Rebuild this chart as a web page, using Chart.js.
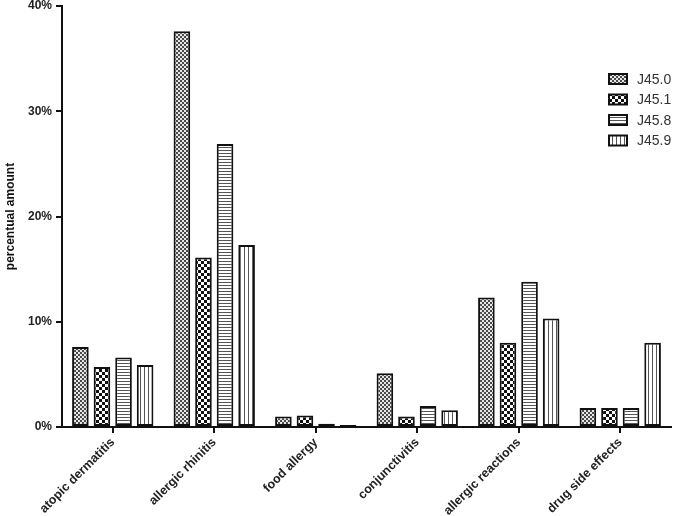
<!DOCTYPE html>
<html>
<head>
<meta charset="utf-8">
<script src="https://cdn.jsdelivr.net/npm/chart.js@4"></script>
<style>
  body { margin: 0; background: #fff; }
  #wrap { width: 675px; height: 516px; position: relative; }
</style>
</head>
<body>
<div id="wrap"><canvas id="chart"></canvas></div>
<script>
// data (percent)
const categories = ["atopic dermatitis", "allergic rhinitis", "food allergy", "conjunctivitis", "allergic reactions", "drug side effects"];
const seriesNames = ["J45.0", "J45.1", "J45.8", "J45.9"];
const j450 = [7.6, 37.6, 1.0, 5.1, 12.3, 1.8];
const j451 = [5.7, 16.1, 1.1, 1.0, 8.0, 1.8];
const j458 = [6.6, 26.9, 0.3, 2.0, 13.8, 1.8];
const j459 = [5.9, 17.3, 0.2, 1.6, 10.3, 8.0];
const yTicks = [0, 10, 20, 30, 40];

// fill patterns
const makePattern = (size, draw) => {
  const c = document.createElement("canvas");
  c.width = size;
  c.height = size;
  const g = c.getContext("2d");
  g.fillStyle = "#fff";
  g.fillRect(0, 0, size, size);
  draw(g);
  return g.createPattern(c, "repeat");
};

const patterns = [
  // fine grey checker
  makePattern(4, (g) => {
    g.fillStyle = "#e6e6e6";
    g.fillRect(0, 0, 4, 4);
    g.fillStyle = "#4a4a4a";
    g.fillRect(0, 0, 2, 2);
    g.fillRect(2, 2, 2, 2);
  }),
  // coarse black/white checker
  makePattern(6, (g) => {
    g.fillStyle = "#111";
    g.fillRect(0, 0, 3, 3);
    g.fillRect(3, 3, 3, 3);
  }),
  // horizontal lines
  makePattern(3, (g) => {
    g.fillStyle = "#555";
    g.fillRect(0, 0, 3, 1);
  }),
  // vertical lines
  makePattern(4, (g) => {
    g.fillStyle = "#555";
    g.fillRect(0, 0, 1, 4);
  }),
];

const values = [j450, j451, j458, j459];

// legend drawn inside plot area, top right
const legendPlugin = {
  id: "boxLegend",
  afterDraw(chart) {
    const ctx = chart.ctx;
    ctx.save();
    chart.data.datasets.forEach((ds, i) => {
      const y = 79 + i * 20.5;
      ctx.fillStyle = ds.backgroundColor;
      ctx.fillRect(609, y - 5, 18, 10);
      ctx.lineWidth = 2;
      ctx.strokeStyle = "#111";
      ctx.strokeRect(609, y - 5, 18, 10);
      ctx.fillStyle = "#333";
      ctx.font = "14px 'Liberation Sans', Arial, sans-serif";
      ctx.textBaseline = "middle";
      ctx.fillText(ds.label, 637, y + 1);
    });
    ctx.restore();
  },
};

new Chart(document.getElementById("chart"), {
  type: "bar",
  data: {
    labels: categories,
    datasets: seriesNames.map((name, i) => ({
      label: name,
      data: values[i],
      backgroundColor: patterns[i],
      borderColor: "#111",
      borderWidth: 2,
      borderSkipped: false,
      categoryPercentage: 0.85,
      barPercentage: 0.77,
    })),
  },
  options: {
    responsive: true,
    maintainAspectRatio: false,
    animation: false,
    layout: { padding: { top: 6, right: 4, left: 0, bottom: 0 } },
    plugins: {
      legend: { display: false },
      tooltip: { enabled: false },
    },
    scales: {
      x: {
        grid: {
          display: true,
          offset: false,
          drawOnChartArea: false,
          drawTicks: true,
          tickLength: 6,
          color: "#111",
          lineWidth: 2,
        },
        border: { display: true, color: "#111", width: 2 },
        ticks: {
          color: "#222",
          minRotation: 45,
          maxRotation: 45,
          padding: 2,
          font: { family: "'Liberation Sans', Arial, sans-serif", size: 12.5, weight: "bold" },
        },
        afterFit: (scale) => { scale.height = 89; },
      },
      y: {
        min: 0,
        max: 40,
        afterBuildTicks: (scale) => { scale.ticks = yTicks.map((v) => ({ value: v })); },
        grid: {
          display: true,
          drawOnChartArea: false,
          drawTicks: true,
          tickLength: 6,
          color: "#111",
          lineWidth: 2,
        },
        border: { display: true, color: "#111", width: 2 },
        ticks: {
          color: "#222",
          padding: 4,
          callback: (v) => v + "%",
          font: { family: "'Liberation Sans', Arial, sans-serif", size: 12, weight: "bold" },
        },
        title: {
          display: true,
          text: "percentual amount",
          color: "#111",
          padding: { top: 3, bottom: 8 },
          font: { family: "'Liberation Sans', Arial, sans-serif", size: 12, weight: "bold" },
        },
        afterFit: (scale) => {
          scale.width = 62;
          scale.paddingTop = 0;
          scale.paddingBottom = 0;
        },
      },
    },
  },
  plugins: [legendPlugin],
});
</script>
</body>
</html>
